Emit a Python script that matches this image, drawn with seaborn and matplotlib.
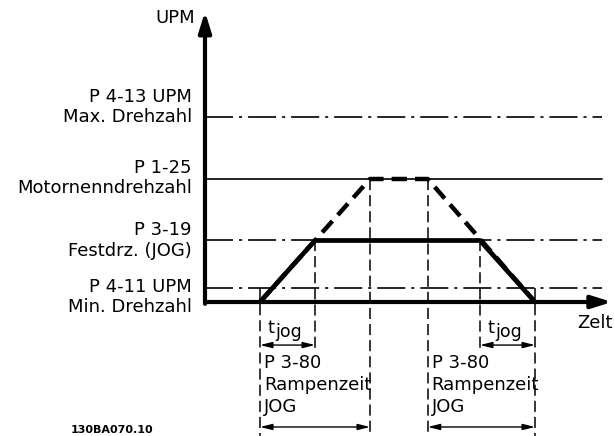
import matplotlib
matplotlib.use("Agg")
import matplotlib.pyplot as plt
import seaborn as sns
import pandas as pd

# Drehzahlstufen (relativ, Motornenndrehzahl = 100)
level_names = ["P 4-11 UPM\nMin. Drehzahl", "P 3-19\nFestdrz. (JOG)",
               "P 1-25\nMotornenndrehzahl", "P 4-13 UPM\nMax. Drehzahl"]
level_upm = [11, 50, 100, 150]
level_styles = ["dashdot", "dashdot", "solid", "dashdot"]
label_y = [4, 50, 100.8, 158.5]

# Rampenprofil bis Nenndrehzahl (gestrichelt) und JOG-Profil (durchgezogen)
ramp_t = [10, 30, 40.5, 60]
ramp_upm = [0, 100, 100, 0]
jog_t = [10, 20, 50, 60]
jog_upm = [0, 50, 50, 0]

# Zeitmarken mit senkrechten Hilfslinien (Zeit, Start-UPM, Ende)
mark_t = [10, 20, 30, 40.5, 50, 60]
mark_top = [11, 50, 100, 100, 50, 11]
mark_bottom = [-109, -39, -109, -109, -39, -109]

X_MAX, Y_MAX = 74, 236
LINE_END = 72.2

sns.set_style("white")
plt.rcParams["font.family"] = ["DejaVu Sans"]
plt.rcParams["text.color"] = "black"
plt.rcParams["lines.scale_dashes"] = False
FS = 13

fig = plt.figure(figsize=(6.14, 4.36), dpi=100)
ax = fig.add_axes([205 / 614, 134 / 436, 407 / 614, 290.3 / 436])
ax.set_xlim(0, X_MAX)
ax.set_ylim(0, Y_MAX)
ax.axis("off")

dashdot = (0, (20.2, 4.3, 2.2, 4.3))
for upm, st in zip(level_upm, level_styles):
    ls = "-" if st == "solid" else dashdot
    ax.plot([0, LINE_END], [upm, upm], color="black", lw=1.2, ls=ls,
            clip_on=False, zorder=1)

for t, top, bot in zip(mark_t, mark_top, mark_bottom):
    ax.plot([t, t], [top, bot], color="black", lw=1.1,
            ls=(0, (8, 3.6)), clip_on=False, zorder=1)

ramp = pd.DataFrame({"Zeit": ramp_t, "UPM": ramp_upm})
jog = pd.DataFrame({"Zeit": jog_t, "UPM": jog_upm})
sns.lineplot(data=ramp, x="Zeit", y="UPM", ax=ax, color="black", lw=3.2,
             sort=False, zorder=3, clip_on=False)
ax.lines[-1].set_dashes((11, 5.8))
sns.lineplot(data=jog, x="Zeit", y="UPM", ax=ax, color="black", lw=3.4,
             sort=False, zorder=4, clip_on=False)
ax.axis("off")

# Achsen mit Pfeilspitzen
head = "-|>,head_length=0.8,head_width=0.25"
ax.annotate("", xy=(X_MAX, 0), xytext=(0, 0), annotation_clip=False,
            arrowprops=dict(arrowstyle=head, lw=3, color="black",
                            shrinkA=0, shrinkB=0, mutation_scale=15))
ax.annotate("", xy=(0, Y_MAX), xytext=(0, -1.5), annotation_clip=False,
            arrowprops=dict(arrowstyle=head, lw=3, color="black",
                            shrinkA=0, shrinkB=0, mutation_scale=15))

ax.text(-1.8, 230.9, "UPM", ha="right", va="center", fontsize=FS)
ax.text(67.6, -17, "Zelt", ha="left", va="center", fontsize=FS)
for name, y in zip(level_names, label_y):
    ax.text(-2.4, y, name, ha="right", va="center", fontsize=FS,
            multialignment="right", linespacing=1.2)

# Zeitbemaßung unter der Achse
dim = dict(arrowstyle="<|-|>,head_length=0.6,head_width=0.15", lw=1,
           color="black", shrinkA=0, shrinkB=0, mutation_scale=12)
for a, b in [(10, 20), (50, 60)]:
    ax.annotate("", xy=(a, -35), xytext=(b, -35), annotation_clip=False,
                arrowprops=dim)
    ax.text(a + 1.3, -21.5, "t", ha="left", va="center", fontsize=FS)
    ax.text(a + 2.8, -24.5, "jog", ha="left", va="center", fontsize=FS - 0.5)
for a, b in [(10, 30), (40.5, 60)]:
    ax.annotate("", xy=(a, -101.6), xytext=(b, -101.6), annotation_clip=False,
                arrowprops=dim)
    ax.text(a + 0.7, -67.5, "P 3-80\nRampenzeit\nJOG", ha="left", va="center",
            fontsize=FS, linespacing=1.3)

fig.text(112 / 614, 6 / 436, "130BA070.10", ha="center", va="center",
         fontsize=8, fontweight="bold")

fig.savefig("out.png", dpi=100)
